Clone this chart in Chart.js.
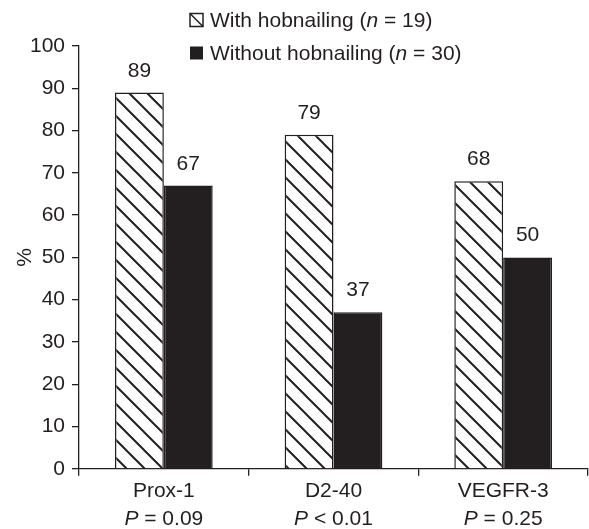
<!DOCTYPE html>
<html>
<head>
<meta charset="utf-8">
<script src="https://cdn.jsdelivr.net/npm/chart.js@4.4.1/dist/chart.umd.min.js"></script>
<style>
  html, body { margin: 0; padding: 0; background: #fff; }
  #wrap { width: 589px; height: 529px; }
</style>
</head>
<body>
<div id="wrap"><canvas id="myChart" width="589" height="529"></canvas></div>
<script>
const categories = ['Prox-1', 'D2-40', 'VEGFR-3'];
const pValues = ['= 0.09', '< 0.01', '= 0.25'];
const withHob = [89, 79, 68];
const withoutHob = [67, 37, 50];
const seriesNames = ['With hobnailing', 'Without hobnailing'];
const seriesN = [19, 30];

const ink = '#231f20';
const fontFamily = "'Liberation Sans', Arial, sans-serif";
const fontSize = 21;

// diagonal hatch "\\\"
function makeHatch() {
  const s = 18;
  const c = document.createElement('canvas');
  c.width = s; c.height = s;
  const g = c.getContext('2d');
  g.fillStyle = '#fff';
  g.fillRect(0, 0, s, s);
  g.strokeStyle = ink;
  g.lineWidth = 2;
  g.beginPath();
  g.moveTo(-2, -2); g.lineTo(s + 2, s + 2);
  g.moveTo(-2, s - 2); g.lineTo(2, s + 2);
  g.moveTo(s - 2, -2); g.lineTo(s + 2, 2);
  g.stroke();
  return g.createPattern(c, 'repeat');
}
const hatch = makeHatch();

function drawParts(ctx, parts, x, y) {
  parts.forEach(p => {
    ctx.font = (p[1] ? 'italic ' : '') + fontSize + 'px ' + fontFamily;
    ctx.fillText(p[0], x, y);
    x += ctx.measureText(p[0]).width;
  });
}

const extras = {
  id: 'extras',
  afterDatasetsDraw(chart) {
    const ctx = chart.ctx;
    ctx.save();
    ctx.fillStyle = ink;
    // value labels
    ctx.font = fontSize + 'px ' + fontFamily;
    ctx.textAlign = 'center';
    ctx.textBaseline = 'alphabetic';
    chart.data.datasets.forEach((ds, i) => {
      chart.getDatasetMeta(i).data.forEach((bar, j) => {
        ctx.fillText(String(ds.data[j]), bar.x, bar.y - 16);
      });
    });
    // P values under category labels
    const xs = chart.scales.x;
    ctx.textAlign = 'left';
    ctx.textBaseline = 'middle';
    categories.forEach((c, j) => {
      const cx = xs.getPixelForTick(j);
      ctx.font = 'italic ' + fontSize + 'px ' + fontFamily;
      const w1 = ctx.measureText('P').width;
      ctx.font = fontSize + 'px ' + fontFamily;
      const rest = ' ' + pValues[j];
      const w2 = ctx.measureText(rest).width;
      drawParts(ctx, [['P', true], [rest, false]], cx - (w1 + w2) / 2, 519);
    });
    // legend
    const lx = 190, rows = [20, 53], box = 13;
    seriesNames.forEach((name, i) => {
      const y = rows[i];
      ctx.lineWidth = 1.5;
      ctx.strokeStyle = ink;
      if (i === 0) {
        ctx.fillStyle = '#fff';
        ctx.fillRect(lx, y - box / 2, box, box);
        ctx.strokeRect(lx, y - box / 2, box, box);
        ctx.beginPath();
        ctx.moveTo(lx, y - box / 2);
        ctx.lineTo(lx + box, y + box / 2);
        ctx.stroke();
      } else {
        ctx.fillStyle = ink;
        ctx.fillRect(lx, y - box / 2, box, box);
      }
      ctx.fillStyle = ink;
      drawParts(ctx, [[name + ' (', false], ['n', true], [' = ' + seriesN[i] + ')', false]], lx + 20, y + 1);
    });
    ctx.restore();
  }
};

new Chart(document.getElementById('myChart'), {
  type: 'bar',
  data: {
    labels: categories,
    datasets: [{
      label: seriesNames[0],
      data: withHob,
      backgroundColor: hatch,
      borderColor: ink,
      borderWidth: 1.5,
      categoryPercentage: 0.576,
      barPercentage: 1
    }, {
      label: seriesNames[1],
      data: withoutHob,
      backgroundColor: ink,
      borderColor: ink,
      borderWidth: 1.5,
      categoryPercentage: 0.576,
      barPercentage: 1
    }]
  },
  options: {
    responsive: false,
    animation: false,
    layout: { padding: { top: 46, right: 1, bottom: 22, left: 0 } },
    plugins: {
      legend: { display: false },
      tooltip: { enabled: false }
    },
    scales: {
      x: {
        grid: { display: true, drawOnChartArea: false, offset: true, tickLength: 7, color: ink, lineWidth: 1.3 },
        border: { display: true, color: ink, width: 1.3 },
        ticks: { color: ink, font: { size: fontSize, family: fontFamily }, padding: 3, maxRotation: 0 }
      },
      y: {
        min: 0,
        max: 100,
        afterFit(scale) { scale.width = 79; },
        grid: { display: true, drawOnChartArea: false, tickLength: 7, color: ink, lineWidth: 1.3 },
        border: { display: true, color: ink, width: 1.3 },
        ticks: { stepSize: 10, color: ink, font: { size: fontSize, family: fontFamily }, padding: 7 },
        title: { display: true, text: '%', color: ink, font: { size: fontSize, family: fontFamily }, padding: { top: 13, bottom: 0 } }
      }
    }
  },
  plugins: [extras]
});
</script>
</body>
</html>
